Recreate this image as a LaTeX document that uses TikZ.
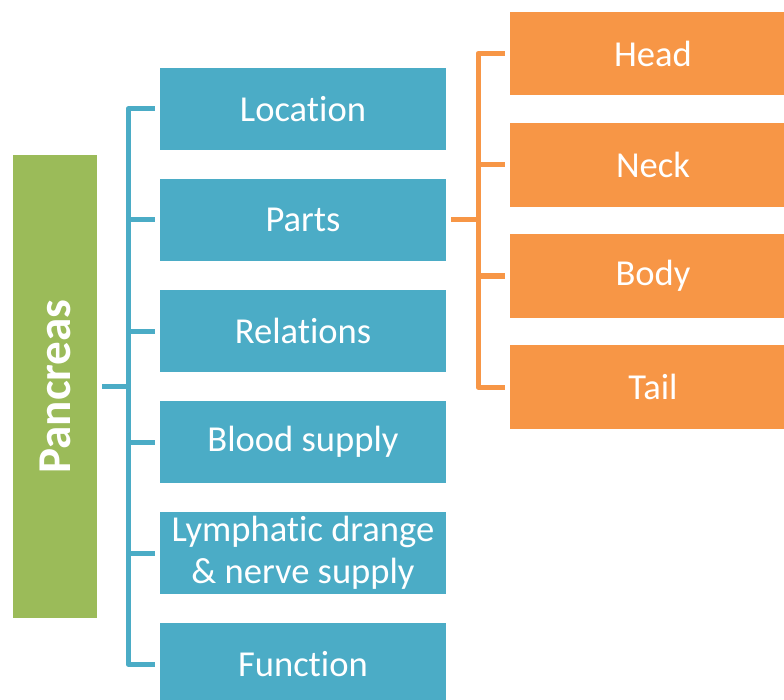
\documentclass[tikz,border=0pt]{standalone}
\usepackage{fontspec}
\setmainfont{Carlito}[Ligatures=NoCommon]
\usetikzlibrary{positioning}

\begin{document}
\begin{tikzpicture}[x=0.25mm,y=-0.25mm]
	\tikzstyle{every node}=[font=\fontsize{26}{30}\selectfont,text=white,inner sep=0pt,outer sep=1.25mm]
	
	\definecolor{panGreen}{RGB}{155,187,89}
	\definecolor{subTeal}{RGB}{75,172,198}
	\definecolor{partOrange}{RGB}{247,150,70}
	%%frame of the slide
	\useasboundingbox (0,0) rectangle (784,700);
	\tikzstyle{tealbox}=[fill=subTeal,minimum width=71.5mm,minimum height=20.5mm,align=center]
	\tikzstyle{orangebox}=[fill=partOrange,minimum width=71.5mm,minimum height=20.75mm]
	\tikzstyle{tealline}=[draw=subTeal,line width=1.25mm,line join=round]
	\tikzstyle{orangeline}=[draw=partOrange,line width=1.25mm,line join=round]
	
	\node [fill=panGreen,rotate=90,minimum width=115.75mm,minimum height=21mm,font=\fontsize{33.5}{38}\selectfont\bfseries]  (pan) at (55,386.5)  {Pancreas};
	
	\node [tealbox]  (loc) at (303,109)  {Location};
	\node [tealbox]  (par) at (303,220)  {Parts};
	\node [tealbox]  (rel) at (303,331)  {Relations};
	\node [tealbox]  (blo) at (303,442)  {Blood supply};
	\node [tealbox]  (lym) at (303,553)  {Lymphatic drange\\\& nerve supply};
	\node [tealbox]  (fun) at (303,664)  {Function};
	
	\node [orangebox]  (hea) at (653,53.5)  {Head};
	\node [orangebox]  (nec) at (653,165)  {Neck};
	\node [orangebox]  (bod) at (653,276)  {Body};
	\node [orangebox]  (tai) at (653,387)  {Tail};
	
	%%brackets
	\coordinate (tbus) at (128,0);
	\coordinate (obus) at (478,0);
	\draw [tealline]  (pan.south) -- (pan.south -| tbus);
	\foreach \n in {loc,par,rel,blo,lym,fun}
		\draw [tealline]  (pan.south -| tbus) |- (\n.west);
	\draw [orangeline]  (par.east) -- (par.east -| obus);
	\foreach \n in {hea,nec,bod,tai}
		\draw [orangeline]  (par.east -| obus) |- (\n.west);

\end{tikzpicture}
\end{document}
